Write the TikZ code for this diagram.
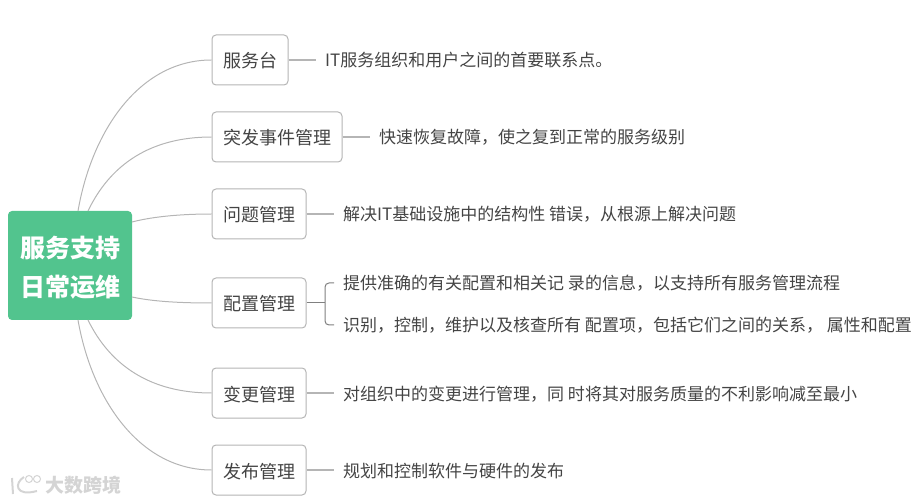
\documentclass[tikz,border=0pt]{standalone}
\usepackage{fontspec}
\setmainfont{Noto Sans CJK SC}
\definecolor{rootgreen}{HTML}{52C48E}
\definecolor{inkgray}{HTML}{444444}
\definecolor{linegray}{HTML}{B5B5B5}
\definecolor{markgray}{HTML}{D4D4D4}
\tikzset{
	rootbox/.style={draw=none, fill=rootgreen, rounded corners=4pt, text=white, align=center, minimum width=124pt, minimum height=109pt, inner sep=0pt, font=\fontsize{25}{39}\selectfont\bfseries},
	topicbox/.style={draw=linegray, line width=1pt, fill=white, rounded corners=4pt, text=inkgray, minimum height=50pt, inner sep=0pt, text height=16pt, text depth=0pt, font=\fontsize{18}{22}\selectfont},
	leaftext/.style={anchor=west, text=inkgray, inner xsep=9pt, inner ysep=0pt, text height=14pt, text depth=0pt, font=\fontsize{17}{20}\selectfont},
	branch/.style={draw=linegray, line width=1pt},
	stub/.style={draw=linegray, line width=1.2pt},
}
\begin{document}
\begin{tikzpicture}[x=1pt, y=-1pt]
	\useasboundingbox (0,0) rectangle (923,502);

	% Central topic
	\node[rootbox] (root) at (70,265.5) {\rule{0pt}{26pt}服务支持\\日常运维};
	\coordinate (rootNa) at (78,211);
	\coordinate (rootNb) at (88,211);
	\coordinate (rootEa) at (132,222);
	\coordinate (rootEb) at (132,297);
	\coordinate (rootSb) at (88,320);
	\coordinate (rootSa) at (78,320);

	% Topic boxes
	\node[topicbox, minimum width=76pt] (desk) at (250,60) {服务台};
	\node[topicbox, minimum width=130pt] (incident) at (277,137) {突发事件管理};
	\node[topicbox, minimum width=94pt] (problem) at (259,214) {问题管理};
	\node[topicbox, minimum width=94pt] (config) at (259,303) {配置管理};
	\node[topicbox, minimum width=94pt] (change) at (259,393) {变更管理};
	\node[topicbox, minimum width=94pt] (release) at (259,470) {发布管理};

	% Descriptions
	\node[leaftext] (deskText) at (316,60) {IT服务组织和用户之间的首要联系点。};
	\node[leaftext] (incidentText) at (370,137) {快速恢复故障，使之复到正常的服务级别};
	\node[leaftext] (problemText) at (334,214) {解决IT基础设施中的结构性 错误，从根源上解决问题};
	\node[leaftext] (configTextA) at (334,283) {提供准确的有关配置和相关记 录的信息，以支持所有服务管理流程};
	\node[leaftext] (configTextB) at (334,325) {识别，控制，维护以及核查所有 配置项，包括它们之间的关系， 属性和配置};
	\node[leaftext] (changeText) at (334,393) {对组织中的变更进行管理，同 时将其对服务质量的不利影响减至最小};
	\node[leaftext] (releaseText) at (334,470) {规划和控制软件与硬件的发布};

	% Curves from the central topic
	\draw[branch] (rootNa) .. controls (92,130) and (140,60) .. (desk.west);
	\draw[branch] (rootNb) .. controls (110,165) and (150,137) .. (incident.west);
	\draw[branch] (rootEa) .. controls (155,216) and (185,214) .. (problem.west);
	\draw[branch] (rootEb) .. controls (155,302) and (185,303) .. (config.west);
	\draw[branch] (rootSb) .. controls (110,365) and (150,393) .. (change.west);
	\draw[branch] (rootSa) .. controls (92,400) and (140,470) .. (release.west);

	% Lines to the descriptions
	\draw[stub] (desk.east) -- (deskText.west);
	\draw[stub] (incident.east) -- (incidentText.west);
	\draw[stub] (problem.east) -- (problemText.west);
	\draw[stub] (change.east) -- (changeText.west);
	\draw[stub] (release.east) -- (releaseText.west);

	% Fork of the config topic
	\coordinate (fork) at (325,303);
	\draw[branch, draw=gray] (config.east) -- (fork);
	\draw[branch, draw=gray, rounded corners=4pt] (configTextA.west) -| (fork) |- (configTextB.west);

	% Watermark
	\node[text=markgray, inner sep=0pt, font=\fontsize{19}{20}\selectfont\bfseries] (mark) at (83,485) {大数跨境};
	\draw[markgray, line width=2pt] (12,478) -- (13,494);
	\draw[markgray, line width=2pt] (24,477) .. controls (14,483) and (15,497) .. (37,491);
	\draw[markgray, line width=1pt] (29,479) circle (3.5);
	\draw[markgray, line width=1pt] (37,479) circle (3.5);
\end{tikzpicture}
\end{document}
